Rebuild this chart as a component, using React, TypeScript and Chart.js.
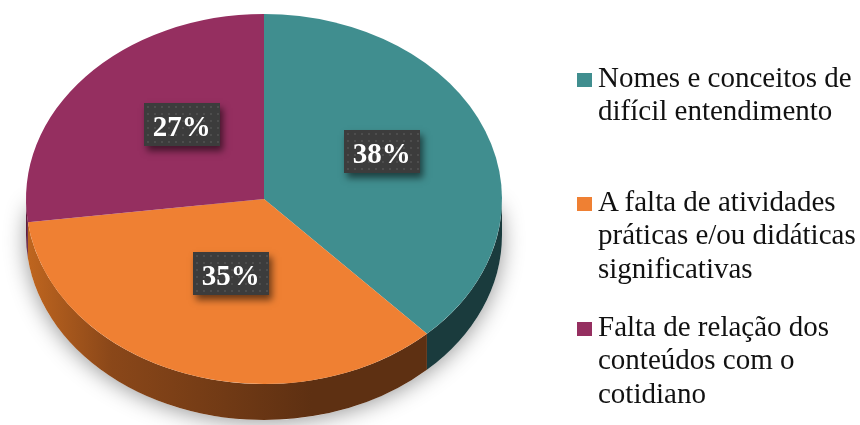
import React, { useEffect, useRef } from "react";
import { Chart, registerables } from "chart.js";

Chart.register(...registerables);

const categories = [
  "Nomes e conceitos de difícil entendimento",
  "A falta de atividades práticas e/ou didáticas significativas",
  "Falta de relação dos conteúdos com o cotidiano",
];
const legendLines = [
  ["Nomes e conceitos de", "difícil entendimento"],
  ["A falta de atividades", "práticas e/ou didáticas", "significativas"],
  ["Falta de relação dos", "conteúdos com o", "cotidiano"],
];
const values = [38, 35, 27];
const percentLabels = ["38%", "35%", "27%"];
const topColors = ["#408E8F", "#EF8033", "#952F60"];
const sideColors = ["#1A3B3D", "#64330F", "#5E1C3C"];

const SX = 238 / 185; // horizontal stretch of the pie face
const DEPTH = 36;
const SERIF = "'Liberation Serif', 'Times New Roman', serif";

const pie3d = {
  id: "pie3d",
  beforeDatasetsDraw(chart: any) {
    const ctx = chart.ctx;
    const arcs = chart.getDatasetMeta(0).data;
    if (!arcs.length) return;
    const p = arcs[0].getProps(["x", "y", "outerRadius"], true);
    const cx = p.x, cy = p.y, ry = p.outerRadius, rx = ry * SX;

    // soft shadow beneath the body (lower half only, fading upward)
    ctx.save();
    ctx.beginPath();
    ctx.moveTo(cx + rx - 4, cy + 6);
    ctx.lineTo(cx + rx, cy + DEPTH);
    ctx.ellipse(cx, cy + DEPTH, rx, ry, 0, 0, Math.PI);
    ctx.lineTo(cx - rx + 4, cy + 6);
    ctx.closePath();
    ctx.shadowColor = "rgba(0,0,0,0.42)";
    ctx.shadowBlur = 22;
    ctx.shadowOffsetY = 2;
    ctx.fillStyle = "#ffffff";
    ctx.fill();
    ctx.restore();

    // side walls
    arcs.forEach((arc: any, i: number) => {
      const a = arc.getProps(["startAngle", "endAngle"], true);
      const a1 = Math.max(a.startAngle, 0);
      const a2 = Math.min(a.endAngle, Math.PI);
      if (a2 <= a1) return;
      ctx.save();
      ctx.beginPath();
      ctx.ellipse(cx, cy, rx, ry, 0, a1, a2);
      ctx.ellipse(cx, cy + DEPTH, rx, ry, 0, a2, a1, true);
      ctx.closePath();
      if (i === 1) {
        const g = ctx.createLinearGradient(cx - rx, 0, cx + rx * 0.2, 0);
        g.addColorStop(0, "#C0661F");
        g.addColorStop(0.3, "#8A4719");
        g.addColorStop(1, "#5E3012");
        ctx.fillStyle = g;
      } else {
        ctx.fillStyle = sideColors[i];
      }
      ctx.fill();
      ctx.restore();
    });

    // stretch the top face into an ellipse
    ctx.save();
    ctx.translate(cx, 0);
    ctx.scale(SX, 1);
    ctx.translate(-cx, 0);
  },
  afterDatasetsDraw(chart: any) {
    const ctx = chart.ctx;
    ctx.restore();
    const arcs = chart.getDatasetMeta(0).data;
    if (!arcs.length) return;
    arcs.forEach((arc: any, i: number) => {
      const a = arc.getProps(["x", "y", "startAngle", "endAngle", "outerRadius"], true);
      const mid = (a.startAngle + a.endAngle) / 2;
      const rx = a.outerRadius * SX, ry = a.outerRadius;
      const lx = a.x + Math.cos(mid) * rx * 0.5 + 7;
      const ly = a.y + Math.sin(mid) * ry * 0.5 - 13;
      const w = 76, h = 43;
      const bx = Math.round(lx - w / 2), by = Math.round(ly - h / 2);
      ctx.save();
      ctx.shadowColor = "rgba(0,0,0,0.55)";
      ctx.shadowBlur = 7;
      ctx.shadowOffsetX = 3;
      ctx.shadowOffsetY = 5;
      ctx.fillStyle = "#3C3C3C";
      ctx.fillRect(bx, by, w, h);
      ctx.restore();
      ctx.save();
      ctx.fillStyle = "rgba(255,255,255,0.09)";
      for (let yy = by + 3; yy < by + h - 1; yy += 7) {
        for (let xx = bx + 3; xx < bx + w - 1; xx += 7) {
          ctx.fillRect(xx, yy, 2, 2);
        }
      }
      ctx.fillStyle = "#FFFFFF";
      ctx.font = `bold 29px ${SERIF}`;
      ctx.textAlign = "center";
      ctx.textBaseline = "alphabetic";
      ctx.fillText(percentLabels[i], lx, by + 33);
      ctx.restore();
    });
  },
};

export default function App() {
  const canvasRef = useRef<HTMLCanvasElement>(null);

  useEffect(() => {
    document.body.style.margin = "0";
    const canvas = canvasRef.current;
    if (!canvas) return;
    const chart = new Chart(canvas, {
      type: "pie",
      data: {
        labels: categories,
        datasets: [
          {
            data: values,
            backgroundColor: topColors,
            borderWidth: 0,
            clip: false as any,
          },
        ],
      },
      options: {
        animation: false,
        responsive: true,
        maintainAspectRatio: false,
        events: [],
        layout: { padding: { left: 79, right: 411, top: 14, bottom: 41 } },
        plugins: {
          legend: { display: false },
          tooltip: { enabled: false },
        },
      },
      plugins: [pie3d],
    });
    return () => chart.destroy();
  }, []);

  const legendTops = [60.5, 184.5, 309.5];

  return (
    <div style={{ position: "fixed", left: 0, top: 0, width: 860, height: 425, background: "#fff" }}>
      <canvas ref={canvasRef} style={{ position: "absolute", left: 0, top: 0 }} />
      {legendLines.map((lines, i) => (
        <div key={i} style={{ position: "absolute", left: 577, top: legendTops[i] }}>
          <div
            style={{
              position: "absolute",
              left: 0,
              top: 12.5,
              width: 15,
              height: 14,
              background: topColors[i],
            }}
          />
          <div
            style={{
              position: "absolute",
              left: 21,
              top: 0,
              fontFamily: SERIF,
              fontSize: 29,
              lineHeight: "33.5px",
              color: "#111",
              whiteSpace: "nowrap",
            }}
          >
            {lines.map((l, j) => (
              <div key={j}>{l}</div>
            ))}
          </div>
        </div>
      ))}
    </div>
  );
}
